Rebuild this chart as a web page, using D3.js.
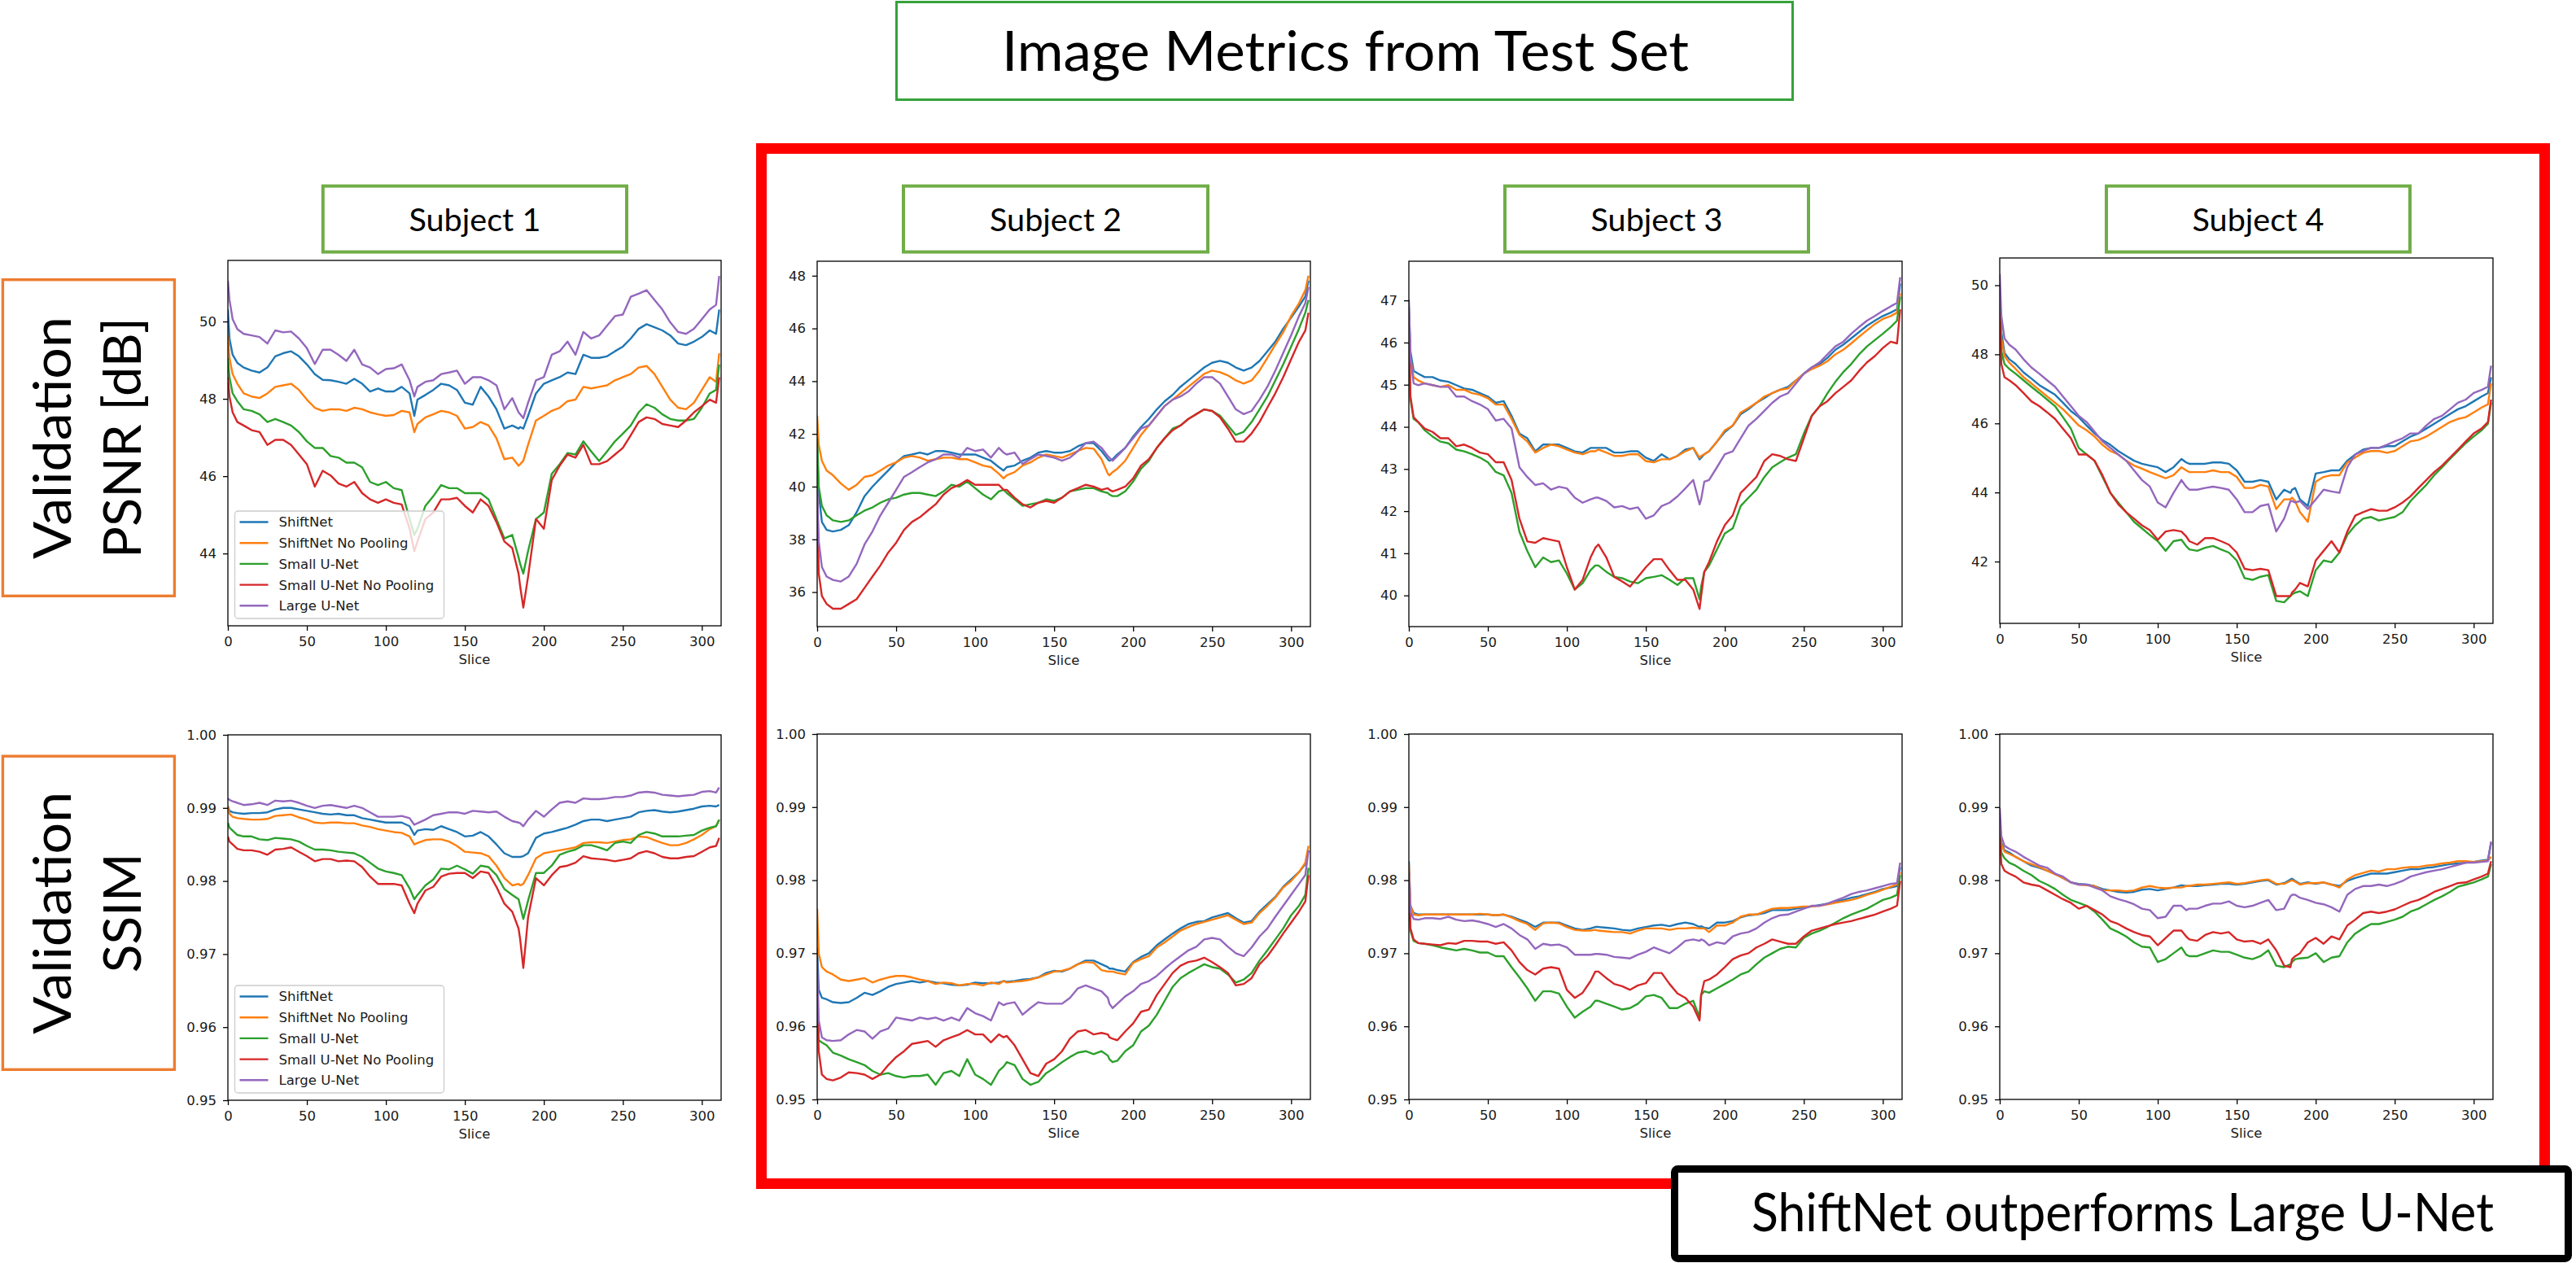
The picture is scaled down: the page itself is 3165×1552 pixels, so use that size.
<!DOCTYPE html>
<html><head><meta charset="utf-8">
<script src="https://cdn.jsdelivr.net/npm/d3@7"></script>
<style>body{margin:0;background:#fff}svg{display:block}</style>
</head><body>
<svg id="c" width="3165" height="1552"></svg>
<script>
// ---------------- DATA ----------------
const SLICES=[0,1,3,6,10,15,20,25,30,35,40,45,50,55,60,65,70,75,80,85,90,95,100,105,110,115,118,120,125,130,135,140,145,150,155,160,165,170,175,180,184,185,187,190,195,200,205,210,215,220,225,230,235,240,245,250,255,260,265,270,275,280,285,290,295,300,305,309,311];
const SERIES_NAMES=["ShiftNet","ShiftNet No Pooling","Small U-Net","Small U-Net No Pooling","Large U-Net"];
const SUBJECTS=["Subject 1","Subject 2","Subject 3","Subject 4"];
const X_TICKS=[0,50,100,150,200,250,300];
const PSNR_TICKS_S1=[44,46,48,50];
const PSNR_TICKS_S2=[36,38,40,42,44,46,48];
const PSNR_TICKS_S3=[40,41,42,43,44,45,46,47];
const PSNR_TICKS_S4=[42,44,46,48,50];
const SSIM_TICKS=[0.95,0.96,0.97,0.98,0.99,1.00];
const TITLE="Image Metrics from Test Set";
const ROW_LABELS=[["Validation","PSNR [dB]"],["Validation","SSIM"]];
const CONCLUSION="ShiftNet outperforms Large U-Net";

// PSNR, Subject 1
const P1_SHIFT=[50.31,49.56,49.14,48.93,48.81,48.73,48.68,48.81,49.10,49.18,49.23,49.10,48.89,48.64,48.49,48.48,48.44,48.39,48.52,48.39,48.19,48.27,48.19,48.19,48.31,48.14,47.56,47.98,48.10,48.23,48.39,48.35,48.23,47.90,47.85,48.31,48.06,47.73,47.23,47.31,47.23,47.27,47.23,47.56,48.14,48.39,48.48,48.56,48.68,48.64,49.14,49.06,49.06,49.10,49.23,49.35,49.56,49.81,49.93,49.85,49.77,49.64,49.43,49.39,49.48,49.60,49.77,49.68,50.31];
const P1_SHIFTNP=[49.64,49.06,48.64,48.39,48.14,48.06,48.02,48.14,48.31,48.35,48.39,48.23,47.98,47.77,47.69,47.73,47.73,47.69,47.77,47.73,47.65,47.60,47.56,47.58,47.69,47.65,47.14,47.35,47.52,47.60,47.69,47.65,47.56,47.23,47.27,47.40,47.31,46.98,46.44,46.48,46.27,46.31,46.40,46.81,47.44,47.56,47.69,47.77,47.94,47.98,48.31,48.27,48.31,48.35,48.48,48.56,48.64,48.81,48.85,48.64,48.31,47.98,47.77,47.73,47.90,48.23,48.56,48.44,49.18];
const P1_SMALL=[49.06,48.56,48.14,47.94,47.73,47.69,47.60,47.40,47.48,47.40,47.31,47.14,46.90,46.73,46.73,46.52,46.48,46.35,46.35,46.23,45.85,45.77,45.85,45.69,45.64,44.89,44.48,44.64,45.23,45.48,45.77,45.69,45.69,45.56,45.56,45.56,45.40,44.89,44.39,44.48,43.90,43.73,43.48,44.06,44.89,45.06,46.06,46.31,46.60,46.56,46.90,46.64,46.39,46.64,46.90,47.10,47.31,47.65,47.86,47.77,47.60,47.48,47.44,47.44,47.48,47.77,48.14,48.23,48.89];
const P1_SMALLNP=[48.56,48.06,47.65,47.40,47.31,47.19,47.14,46.81,46.94,46.94,46.81,46.56,46.31,45.73,46.14,46.02,45.81,45.73,45.85,45.56,45.40,45.31,45.40,45.31,45.27,44.64,44.06,44.31,44.89,45.06,45.40,45.40,45.44,45.23,45.06,45.40,45.23,44.81,44.31,44.14,43.48,43.15,42.60,43.40,44.89,44.64,45.90,46.27,46.56,46.48,46.81,46.31,46.31,46.39,46.56,46.73,47.06,47.40,47.52,47.48,47.35,47.31,47.27,47.44,47.65,47.81,47.98,47.90,48.56];
const P1_LARGE=[51.05,50.56,50.06,49.80,49.68,49.64,49.60,49.43,49.77,49.72,49.74,49.56,49.31,48.90,49.27,49.27,49.14,48.98,49.27,48.89,48.81,48.64,48.77,48.79,48.89,48.48,48.06,48.31,48.44,48.48,48.64,48.68,48.73,48.39,48.56,48.56,48.48,48.35,47.73,48.02,47.65,47.60,47.50,47.90,48.48,48.56,49.14,49.23,49.48,49.14,49.73,49.56,49.64,49.89,50.14,50.18,50.64,50.72,50.81,50.56,50.31,49.98,49.73,49.68,49.81,50.06,50.31,50.43,51.18];
// PSNR, Subject 2
const P2_SHIFT=[41.59,39.76,38.66,38.36,38.30,38.36,38.54,39.03,39.64,40.00,40.31,40.61,40.92,41.16,41.22,41.29,41.22,41.35,41.35,41.29,41.22,41.22,41.22,41.10,40.98,40.74,40.61,40.74,40.80,40.98,41.10,41.29,41.35,41.29,41.29,41.35,41.53,41.65,41.65,41.35,41.04,40.98,41.04,41.22,41.47,41.90,42.26,42.57,42.93,43.24,43.48,43.79,44.03,44.28,44.52,44.70,44.77,44.70,44.52,44.40,44.52,44.77,45.13,45.50,45.99,46.41,46.84,47.21,47.82];
const P2_SHIFTNP=[42.69,41.59,40.98,40.61,40.43,40.12,39.88,40.07,40.37,40.43,40.61,40.80,40.92,41.10,41.16,41.10,40.98,41.04,41.10,41.10,41.04,41.04,40.92,40.80,40.74,40.49,40.31,40.43,40.55,40.80,40.92,41.10,41.22,41.16,41.10,41.22,41.35,41.47,41.44,41.04,40.49,40.43,40.55,40.68,40.98,41.47,41.96,42.32,42.69,43.06,43.30,43.54,43.79,44.03,44.28,44.40,44.34,44.22,44.03,43.91,44.03,44.40,44.89,45.38,45.86,46.47,46.96,47.45,48.00];
const P2_SMALL=[41.84,40.00,39.27,38.91,38.72,38.66,38.72,38.91,39.09,39.21,39.39,39.52,39.58,39.70,39.76,39.76,39.70,39.64,39.82,40.07,40.00,40.19,39.94,39.70,39.52,39.82,39.88,39.76,39.52,39.27,39.33,39.39,39.52,39.46,39.58,39.82,39.88,39.94,39.94,39.82,39.76,39.70,39.64,39.64,39.82,40.19,40.68,40.98,41.47,41.84,42.20,42.32,42.57,42.75,42.93,42.87,42.69,42.32,41.96,42.08,42.45,42.93,43.42,44.03,44.64,45.31,45.99,46.60,47.08];
const P2_SMALLNP=[39.76,36.71,35.85,35.55,35.37,35.37,35.55,35.73,36.16,36.59,37.01,37.50,37.87,38.36,38.66,38.84,39.09,39.33,39.70,39.94,40.07,40.25,40.07,40.07,40.07,40.07,39.88,39.88,39.58,39.33,39.21,39.39,39.46,39.39,39.58,39.82,39.94,40.07,40.00,39.88,39.94,39.88,39.82,39.88,40.00,40.31,40.80,41.04,41.47,41.84,42.14,42.32,42.57,42.75,42.93,42.87,42.63,42.20,41.71,41.71,42.02,42.45,43.00,43.54,44.15,44.83,45.50,45.92,46.60];
const P2_LARGE=[40.00,37.93,36.95,36.59,36.46,36.40,36.59,37.07,37.81,38.30,38.91,39.39,39.88,40.37,40.55,40.74,40.92,41.04,41.22,41.22,41.10,41.47,41.35,41.41,41.10,41.47,41.29,41.22,41.29,40.86,41.04,41.22,41.16,41.10,40.98,41.10,41.35,41.65,41.71,41.47,41.16,41.10,40.98,41.16,41.47,41.84,42.20,42.32,42.69,43.06,43.30,43.42,43.61,43.91,44.15,44.15,43.91,43.42,42.93,42.75,42.87,43.30,43.79,44.40,45.07,45.74,46.47,46.96,47.57];
// PSNR, Subject 3
const P3_SHIFT=[46.86,45.79,45.33,45.26,45.18,45.18,45.10,45.07,44.99,44.91,44.88,44.80,44.72,44.57,44.61,44.26,43.84,43.73,43.42,43.58,43.58,43.58,43.50,43.42,43.39,43.50,43.50,43.50,43.50,43.39,43.39,43.42,43.42,43.27,43.19,43.35,43.23,43.31,43.46,43.50,43.23,43.27,43.35,43.42,43.65,43.88,44.03,44.30,44.42,44.57,44.68,44.80,44.88,44.95,45.10,45.26,45.41,45.49,45.64,45.83,45.95,46.10,46.25,46.40,46.52,46.63,46.71,46.79,47.40];
const P3_SHIFTNP=[46.71,45.64,45.18,45.10,45.03,44.99,44.95,44.99,44.88,44.88,44.80,44.76,44.68,44.53,44.53,44.19,43.81,43.65,43.39,43.50,43.58,43.54,43.46,43.39,43.35,43.42,43.42,43.46,43.39,43.31,43.31,43.35,43.35,43.19,43.16,43.23,43.23,43.31,43.42,43.50,43.27,43.31,43.35,43.42,43.65,43.92,44.03,44.34,44.45,44.57,44.72,44.80,44.88,44.91,45.10,45.26,45.37,45.45,45.56,45.72,45.83,45.98,46.14,46.29,46.44,46.56,46.63,46.71,47.17];
const P3_SMALL=[46.25,44.65,44.19,44.11,43.92,43.77,43.65,43.61,43.46,43.42,43.35,43.27,43.16,42.93,42.85,42.43,41.51,41.05,40.67,40.90,40.79,40.83,40.52,40.14,40.29,40.60,40.71,40.71,40.56,40.44,40.41,40.33,40.29,40.41,40.44,40.48,40.37,40.25,40.41,40.41,39.91,40.21,40.56,40.71,41.09,41.47,41.59,42.12,42.32,42.51,42.81,43.04,43.16,43.27,43.35,43.84,44.26,44.49,44.80,45.07,45.30,45.49,45.72,45.91,46.06,46.21,46.37,46.52,47.09];
const P3_SMALLNP=[46.25,44.72,44.23,44.11,43.96,43.88,43.73,43.73,43.54,43.58,43.50,43.39,43.35,43.16,43.16,42.74,41.82,41.28,41.25,41.36,41.32,41.28,40.67,40.14,40.37,40.90,41.13,41.21,40.90,40.44,40.33,40.21,40.44,40.67,40.86,40.86,40.60,40.37,40.37,40.14,39.68,39.98,40.56,40.79,41.28,41.67,41.90,42.43,42.62,42.81,43.19,43.35,43.31,43.23,43.19,43.73,44.26,44.49,44.61,44.80,44.95,45.10,45.33,45.53,45.68,45.87,46.02,45.98,46.79];
const P3_LARGE=[47.02,45.64,45.03,44.99,45.03,44.99,44.95,44.95,44.72,44.72,44.61,44.53,44.42,44.15,44.19,43.96,43.04,42.81,42.62,42.66,42.51,42.58,42.54,42.32,42.20,42.28,42.32,42.32,42.24,42.09,42.12,42.05,42.09,41.82,41.90,42.12,42.20,42.35,42.54,42.74,42.16,42.28,42.70,42.74,43.04,43.35,43.42,43.73,44.03,44.19,44.38,44.57,44.72,44.80,45.03,45.26,45.41,45.53,45.72,45.91,46.02,46.21,46.37,46.52,46.63,46.75,46.86,46.94,47.55];
// PSNR, Subject 4
const P4_SHIFT=[49.77,48.65,48.04,47.86,47.72,47.48,47.30,47.11,46.97,46.83,46.60,46.36,46.18,45.94,45.71,45.52,45.38,45.20,45.06,44.92,44.83,44.78,44.73,44.59,44.73,44.97,44.87,44.83,44.83,44.83,44.87,44.87,44.83,44.64,44.31,44.31,44.36,44.31,43.80,44.08,43.99,44.08,44.13,43.80,43.61,44.55,44.59,44.64,44.64,44.92,45.10,45.24,45.29,45.29,45.34,45.34,45.48,45.62,45.71,45.85,45.99,46.13,46.27,46.41,46.50,46.64,46.78,46.88,47.34];
const P4_SHIFTNP=[49.58,48.46,47.95,47.76,47.58,47.34,47.16,46.97,46.78,46.60,46.41,46.18,45.94,45.80,45.62,45.38,45.20,45.10,44.92,44.78,44.69,44.59,44.50,44.41,44.50,44.73,44.64,44.59,44.59,44.59,44.64,44.59,44.59,44.45,44.13,44.13,44.22,44.17,43.52,43.80,43.80,43.85,43.75,43.43,43.15,44.31,44.45,44.50,44.50,44.87,45.01,45.15,45.20,45.20,45.15,45.20,45.34,45.48,45.52,45.62,45.76,45.90,46.04,46.13,46.18,46.32,46.46,46.55,47.16];
const P4_SMALL=[49.39,48.09,47.72,47.58,47.44,47.25,47.06,46.88,46.69,46.50,46.18,45.85,45.29,45.10,44.92,44.45,43.99,43.71,43.43,43.15,42.96,42.77,42.59,42.31,42.59,42.63,42.45,42.35,42.31,42.40,42.45,42.35,42.26,42.03,41.52,41.47,41.56,41.61,40.86,40.82,41.00,41.05,41.10,41.14,41.00,41.75,42.03,41.98,42.26,42.77,43.05,43.24,43.29,43.19,43.24,43.29,43.43,43.75,43.99,44.22,44.50,44.73,44.97,45.20,45.43,45.62,45.80,45.99,46.60];
const P4_SMALLNP=[49.21,47.72,47.34,47.25,47.11,46.88,46.64,46.50,46.32,46.13,45.85,45.57,45.10,45.10,44.92,44.50,43.99,43.66,43.43,43.24,43.05,42.91,42.63,42.87,42.91,42.87,42.73,42.59,42.49,42.68,42.68,42.59,42.49,42.26,41.79,41.75,41.79,41.75,41.00,41.00,41.00,41.10,41.19,41.38,41.28,42.03,42.31,42.59,42.26,42.87,43.33,43.43,43.52,43.47,43.47,43.57,43.71,43.89,44.13,44.36,44.59,44.78,45.01,45.24,45.48,45.71,45.85,46.04,46.69];
const P4_LARGE=[50.33,49.11,48.46,48.28,48.14,47.86,47.62,47.44,47.25,47.06,46.78,46.50,46.22,46.04,45.76,45.48,45.29,45.10,44.92,44.64,44.36,44.17,43.71,43.57,43.99,44.36,44.17,44.08,44.08,44.13,44.17,44.13,44.08,43.80,43.43,43.43,43.61,43.66,42.87,43.24,43.75,43.75,43.71,43.75,43.52,43.80,44.08,44.03,43.99,44.73,45.10,45.20,45.29,45.29,45.38,45.48,45.57,45.71,45.71,45.94,46.13,46.22,46.41,46.60,46.69,46.88,46.97,47.06,47.67];
// SSIM, Subject 1
const Q1_SHIFT=[.9902,.9896,.9894,.9893,.9892,.9893,.9893,.9894,.9898,.9900,.9900,.9898,.9896,.9894,.9892,.9891,.9892,.9890,.9890,.9886,.9884,.9882,.9880,.9880,.9880,.9875,.9863,.9869,.9871,.9870,.9875,.9871,.9867,.9861,.9862,.9867,.9861,.9850,.9838,.9833,.9833,.9833,.9834,.9838,.9859,.9865,.9867,.9870,.9873,.9877,.9882,.9884,.9884,.9882,.9884,.9886,.9888,.9894,.9896,.9897,.9895,.9894,.9895,.9897,.9899,.9902,.9903,.9902,.9904];
const Q1_SHIFTNP=[.9902,.9892,.9888,.9886,.9885,.9884,.9884,.9885,.9889,.9890,.9891,.9887,.9884,.9880,.9879,.9880,.9880,.9879,.9879,.9876,.9874,.9871,.9869,.9867,.9866,.9861,.9850,.9852,.9856,.9857,.9857,.9854,.9848,.9840,.9839,.9838,.9834,.9821,.9804,.9794,.9796,.9794,.9796,.9808,.9831,.9838,.9840,.9842,.9844,.9846,.9852,.9853,.9853,.9852,.9854,.9856,.9857,.9861,.9860,.9856,.9852,.9849,.9849,.9852,.9857,.9863,.9871,.9875,.9884];
const Q1_SMALL=[.9880,.9873,.9869,.9863,.9861,.9861,.9857,.9856,.9859,.9858,.9857,.9854,.9848,.9843,.9843,.9842,.9840,.9839,.9838,.9833,.9825,.9817,.9813,.9811,.9808,.9790,.9775,.9781,.9794,.9802,.9817,.9816,.9821,.9816,.9810,.9821,.9819,.9808,.9789,.9781,.9775,.9766,.9748,.9773,.9811,.9811,.9821,.9836,.9840,.9843,.9849,.9849,.9846,.9842,.9852,.9854,.9852,.9863,.9867,.9865,.9861,.9861,.9861,.9862,.9863,.9869,.9873,.9875,.9884];
const Q1_SMALLNP=[.9861,.9854,.9850,.9844,.9842,.9842,.9840,.9836,.9843,.9844,.9846,.9840,.9834,.9827,.9830,.9830,.9827,.9828,.9827,.9819,.9806,.9796,.9796,.9796,.9794,.9769,.9756,.9769,.9787,.9792,.9806,.9810,.9811,.9811,.9804,.9813,.9811,.9792,.9769,.9758,.9735,.9720,.9681,.9750,.9804,.9794,.9808,.9819,.9821,.9825,.9834,.9831,.9830,.9829,.9827,.9829,.9831,.9838,.9841,.9838,.9833,.9831,.9831,.9833,.9834,.9840,.9846,.9848,.9859];
const Q1_LARGE=[.9913,.9911,.9909,.9907,.9904,.9905,.9907,.9904,.9910,.9909,.9910,.9907,.9903,.9900,.9903,.9904,.9902,.9900,.9903,.9900,.9894,.9888,.9888,.9888,.9889,.9886,.9877,.9879,.9884,.9890,.9892,.9894,.9894,.9892,.9896,.9895,.9894,.9895,.9888,.9882,.9880,.9879,.9875,.9884,.9896,.9888,.9898,.9907,.9909,.9907,.9913,.9912,.9912,.9913,.9915,.9915,.9917,.9921,.9922,.9921,.9918,.9917,.9916,.9917,.9918,.9922,.9923,.9921,.9928];
// SSIM, Subject 2
const Q2_SHIFT=[.9708,.9650,.9639,.9637,.9633,.9632,.9633,.9639,.9646,.9643,.9648,.9654,.9658,.9660,.9662,.9660,.9662,.9660,.9659,.9657,.9656,.9657,.9660,.9659,.9659,.9660,.9662,.9661,.9662,.9664,.9665,.9667,.9673,.9676,.9675,.9679,.9685,.9690,.9690,.9685,.9681,.9679,.9679,.9677,.9675,.9688,.9695,.9700,.9711,.9719,.9727,.9734,.9740,.9743,.9744,.9749,.9752,.9755,.9748,.9742,.9744,.9757,.9767,.9777,.9791,.9801,.9811,.9822,.9841];
const Q2_SHIFTNP=[.9761,.9700,.9681,.9675,.9671,.9664,.9662,.9664,.9666,.9660,.9664,.9667,.9669,.9669,.9667,.9664,.9662,.9658,.9660,.9659,.9656,.9658,.9658,.9656,.9660,.9658,.9662,.9660,.9661,.9662,.9664,.9667,.9671,.9675,.9676,.9679,.9685,.9688,.9687,.9677,.9675,.9675,.9675,.9673,.9671,.9687,.9692,.9696,.9708,.9715,.9723,.9731,.9736,.9740,.9743,.9746,.9749,.9752,.9746,.9740,.9742,.9755,.9765,.9776,.9790,.9799,.9811,.9824,.9847];
const Q2_SMALL=[.9658,.9581,.9578,.9574,.9564,.9560,.9555,.9551,.9547,.9539,.9534,.9536,.9532,.9530,.9532,.9532,.9534,.9520,.9536,.9539,.9532,.9555,.9534,.9528,.9520,.9539,.9545,.9551,.9547,.9528,.9520,.9524,.9536,.9543,.9551,.9558,.9564,.9566,.9562,.9566,.9560,.9555,.9551,.9553,.9566,.9574,.9593,.9601,.9616,.9635,.9654,.9666,.9673,.9679,.9685,.9681,.9679,.9671,.9660,.9664,.9673,.9690,.9704,.9719,.9734,.9752,.9765,.9780,.9817];
const Q2_SMALLNP=[.9643,.9566,.9534,.9528,.9526,.9530,.9537,.9536,.9534,.9528,.9534,.9547,.9558,.9566,.9576,.9578,.9580,.9572,.9581,.9585,.9589,.9595,.9589,.9589,.9578,.9589,.9585,.9587,.9574,.9555,.9536,.9532,.9549,.9555,.9566,.9583,.9593,.9595,.9589,.9591,.9589,.9585,.9583,.9581,.9593,.9604,.9620,.9623,.9643,.9658,.9673,.9683,.9688,.9690,.9694,.9688,.9681,.9673,.9656,.9658,.9666,.9685,.9696,.9711,.9727,.9742,.9757,.9771,.9807];
const Q2_LARGE=[.9688,.9608,.9585,.9581,.9580,.9581,.9589,.9595,.9593,.9583,.9593,.9597,.9612,.9610,.9608,.9612,.9610,.9612,.9608,.9612,.9608,.9625,.9618,.9614,.9608,.9633,.9629,.9631,.9633,.9616,.9625,.9633,.9631,.9631,.9631,.9639,.9652,.9656,.9652,.9648,.9639,.9631,.9625,.9631,.9641,.9648,.9658,.9662,.9669,.9679,.9688,.9696,.9704,.9709,.9719,.9721,.9719,.9709,.9700,.9696,.9708,.9723,.9734,.9750,.9765,.9780,.9795,.9807,.9841];
// SSIM, Subject 3
const Q3_SHIFT=[.9826,.9765,.9755,.9753,.9753,.9753,.9753,.9753,.9753,.9753,.9753,.9753,.9753,.9752,.9753,.9750,.9746,.9742,.9736,.9742,.9742,.9742,.9738,.9734,.9732,.9734,.9736,.9736,.9735,.9734,.9732,.9731,.9734,.9736,.9738,.9739,.9737,.9740,.9742,.9740,.9736,.9737,.9735,.9734,.9742,.9742,.9744,.9749,.9752,.9753,.9755,.9759,.9759,.9759,.9761,.9763,.9764,.9766,.9768,.9771,.9773,.9776,.9778,.9781,.9784,.9788,.9790,.9792,.9818];
const Q3_SHIFTNP=[.9822,.9765,.9753,.9752,.9753,.9753,.9753,.9753,.9753,.9753,.9753,.9754,.9753,.9752,.9753,.9749,.9744,.9740,.9732,.9741,.9742,.9741,.9736,.9732,.9731,.9731,.9732,.9731,.9730,.9729,.9729,.9727,.9731,.9734,.9734,.9734,.9732,.9734,.9734,.9735,.9734,.9734,.9734,.9729,.9738,.9738,.9742,.9750,.9753,.9753,.9757,.9761,.9762,.9762,.9763,.9764,.9764,.9765,.9767,.9769,.9771,.9773,.9776,.9780,.9783,.9787,.9791,.9794,.9811];
const Q3_SMALL=[.9795,.9731,.9717,.9714,.9713,.9711,.9708,.9706,.9704,.9706,.9704,.9701,.9701,.9696,.9696,.9681,.9667,.9652,.9635,.9648,.9648,.9645,.9627,.9612,.9620,.9627,.9635,.9635,.9631,.9627,.9623,.9625,.9631,.9641,.9643,.9639,.9625,.9625,.9631,.9635,.9612,.9643,.9648,.9646,.9652,.9658,.9664,.9671,.9675,.9685,.9694,.9700,.9706,.9709,.9708,.9721,.9727,.9731,.9736,.9742,.9748,.9753,.9757,.9761,.9767,.9773,.9776,.9780,.9807];
const Q3_SMALLNP=[.9799,.9734,.9719,.9714,.9713,.9712,.9711,.9714,.9713,.9717,.9717,.9716,.9716,.9713,.9715,.9704,.9688,.9677,.9671,.9679,.9681,.9679,.9650,.9639,.9646,.9662,.9675,.9675,.9666,.9658,.9655,.9650,.9656,.9659,.9673,.9673,.9658,.9645,.9639,.9627,.9608,.9643,.9662,.9664,.9671,.9681,.9692,.9697,.9700,.9708,.9713,.9719,.9716,.9713,.9713,.9723,.9731,.9734,.9737,.9740,.9742,.9744,.9747,.9750,.9753,.9757,.9761,.9765,.9799];
const Q3_LARGE=[.9811,.9757,.9747,.9746,.9748,.9748,.9747,.9750,.9746,.9744,.9745,.9743,.9740,.9736,.9740,.9734,.9725,.9719,.9706,.9713,.9711,.9712,.9708,.9698,.9698,.9698,.9699,.9699,.9698,.9695,.9694,.9693,.9698,.9702,.9708,.9704,.9700,.9708,.9717,.9719,.9717,.9719,.9717,.9711,.9715,.9713,.9723,.9727,.9729,.9734,.9742,.9748,.9752,.9753,.9757,.9761,.9765,.9765,.9768,.9772,.9776,.9781,.9784,.9786,.9789,.9792,.9795,.9796,.9824];
// SSIM, Subject 4
const Q4_SHIFT=[.9880,.9851,.9841,.9838,.9832,.9826,.9820,.9817,.9813,.9809,.9803,.9797,.9795,.9794,.9792,.9788,.9786,.9784,.9783,.9784,.9787,.9788,.9786,.9788,.9790,.9793,.9792,.9792,.9792,.9793,.9794,.9795,.9795,.9794,.9795,.9797,.9799,.9800,.9794,.9796,.9801,.9802,.9799,.9795,.9797,.9795,.9797,.9794,.9792,.9799,.9803,.9806,.9809,.9809,.9809,.9811,.9813,.9815,.9815,.9817,.9818,.9820,.9822,.9823,.9824,.9825,.9827,.9828,.9851];
const Q4_SHIFTNP=[.9876,.9849,.9839,.9836,.9832,.9826,.9822,.9818,.9813,.9808,.9803,.9797,.9794,.9793,.9792,.9786,.9786,.9786,.9785,.9786,.9790,.9792,.9790,.9789,.9790,.9790,.9792,.9792,.9794,.9794,.9795,.9796,.9797,.9795,.9796,.9798,.9800,.9801,.9795,.9795,.9799,.9800,.9798,.9794,.9796,.9796,.9797,.9794,.9790,.9801,.9807,.9810,.9813,.9812,.9815,.9815,.9817,.9818,.9818,.9820,.9821,.9823,.9824,.9826,.9826,.9825,.9826,.9827,.9832];
const Q4_SMALL=[.9864,.9838,.9830,.9824,.9820,.9813,.9807,.9799,.9794,.9788,.9780,.9773,.9769,.9765,.9757,.9746,.9734,.9729,.9723,.9715,.9709,.9708,.9688,.9692,.9700,.9708,.9698,.9696,.9696,.9700,.9704,.9702,.9702,.9698,.9694,.9692,.9696,.9704,.9683,.9681,.9685,.9688,.9692,.9693,.9694,.9700,.9688,.9694,.9696,.9715,.9727,.9734,.9740,.9740,.9743,.9746,.9750,.9757,.9761,.9767,.9773,.9778,.9784,.9791,.9794,.9797,.9801,.9805,.9822];
const Q4_SMALLNP=[.9860,.9822,.9813,.9809,.9805,.9797,.9794,.9792,.9786,.9780,.9774,.9769,.9761,.9765,.9759,.9753,.9744,.9740,.9734,.9729,.9725,.9723,.9711,.9721,.9731,.9731,.9723,.9719,.9717,.9725,.9729,.9727,.9729,.9719,.9716,.9717,.9713,.9719,.9704,.9683,.9681,.9692,.9696,.9700,.9715,.9721,.9713,.9723,.9719,.9738,.9746,.9755,.9757,.9755,.9757,.9760,.9765,.9770,.9773,.9778,.9784,.9788,.9792,.9796,.9797,.9801,.9805,.9809,.9826];
const Q4_LARGE=[.9899,.9860,.9847,.9843,.9839,.9832,.9826,.9820,.9817,.9809,.9805,.9797,.9794,.9794,.9790,.9786,.9778,.9774,.9771,.9767,.9761,.9759,.9748,.9750,.9765,.9765,.9759,.9761,.9761,.9765,.9768,.9768,.9771,.9765,.9763,.9765,.9769,.9773,.9759,.9761,.9778,.9780,.9780,.9776,.9773,.9769,.9767,.9763,.9757,.9780,.9788,.9792,.9792,.9794,.9792,.9795,.9799,.9805,.9808,.9811,.9813,.9815,.9818,.9821,.9824,.9824,.9825,.9826,.9853];

// ---------------- STYLE / LAYOUT ----------------
const COLORS=["#1f77b4","#ff7f0e","#2ca02c","#d62728","#9467bd"];
const TICK_FONT="'DejaVu Sans', sans-serif";
const BIG_FONT="Lato, 'Open Sans', sans-serif";
const PW=606, PH=449;
const X_DOMAIN=[0,312.2];

const panels=[
  {left:280, top:320, series:[P1_SHIFT,P1_SHIFTNP,P1_SMALL,P1_SMALLNP,P1_LARGE], domain:[42.13,51.58], ticks:PSNR_TICKS_S1, fmt:d3.format("d"), legend:true},
  {left:1004,top:321, series:[P2_SHIFT,P2_SHIFTNP,P2_SMALL,P2_SMALLNP,P2_LARGE], domain:[34.69,48.55], ticks:PSNR_TICKS_S2, fmt:d3.format("d")},
  {left:1731,top:321, series:[P3_SHIFT,P3_SHIFTNP,P3_SMALL,P3_SMALLNP,P3_LARGE], domain:[39.26,47.93], ticks:PSNR_TICKS_S3, fmt:d3.format("d")},
  {left:2457,top:317, series:[P4_SHIFT,P4_SHIFTNP,P4_SMALL,P4_SMALLNP,P4_LARGE], domain:[40.21,50.79], ticks:PSNR_TICKS_S4, fmt:d3.format("d")},
  {left:280, top:903, series:[Q1_SHIFT,Q1_SHIFTNP,Q1_SMALL,Q1_SMALLNP,Q1_LARGE], domain:[0.95,1.0], ticks:SSIM_TICKS, fmt:d3.format(".2f"), legend:true},
  {left:1004,top:902, series:[Q2_SHIFT,Q2_SHIFTNP,Q2_SMALL,Q2_SMALLNP,Q2_LARGE], domain:[0.95,1.0], ticks:SSIM_TICKS, fmt:d3.format(".2f")},
  {left:1731,top:902, series:[Q3_SHIFT,Q3_SHIFTNP,Q3_SMALL,Q3_SMALLNP,Q3_LARGE], domain:[0.95,1.0], ticks:SSIM_TICKS, fmt:d3.format(".2f")},
  {left:2457,top:902, series:[Q4_SHIFT,Q4_SHIFTNP,Q4_SMALL,Q4_SMALLNP,Q4_LARGE], domain:[0.95,1.0], ticks:SSIM_TICKS, fmt:d3.format(".2f")}
];

const svg=d3.select("#c");
svg.append("rect").attr("width",3165).attr("height",1552).attr("fill","#fff");
const defs=svg.append("defs");

panels.forEach((p,pi)=>{
  const g=svg.append("g").attr("transform",`translate(${p.left},${p.top})`);
  const x=d3.scaleLinear().domain(X_DOMAIN).range([0,PW]);
  const y=d3.scaleLinear().domain(p.domain).range([PH,0]);
  defs.append("clipPath").attr("id","clip"+pi).append("rect").attr("width",PW).attr("height",PH);

  const line=d3.line().x((d,i)=>x(SLICES[i])).y(d=>y(d));
  const lg=g.append("g").attr("clip-path",`url(#clip${pi})`);
  p.series.forEach((s,si)=>{
    lg.append("path").datum(s).attr("d",line).attr("fill","none")
      .attr("stroke",COLORS[si]).attr("stroke-width",2.4)
      .attr("stroke-linejoin","round").attr("stroke-linecap","butt");
  });

  // axes
  const xa=g.append("g").attr("transform",`translate(0,${PH})`)
    .call(d3.axisBottom(x).tickValues(X_TICKS).tickSize(6).tickSizeOuter(0).tickPadding(7).tickFormat(d3.format("d")));
  const ya=g.append("g")
    .call(d3.axisLeft(y).tickValues(p.ticks).tickSize(6).tickSizeOuter(0).tickPadding(8).tickFormat(p.fmt));
  [xa,ya].forEach(a=>{
    a.select(".domain").remove();
    a.attr("font-family",TICK_FONT).attr("font-size",16.5);
    a.selectAll("line").attr("stroke","#000").attr("stroke-width",1.3);
    a.selectAll("text").attr("fill","#1a1a1a");
  });
  g.append("rect").attr("width",PW).attr("height",PH).attr("fill","none")
    .attr("stroke","#000").attr("stroke-width",1.3);
  g.append("text").attr("x",PW/2).attr("y",PH+47).attr("text-anchor","middle")
    .attr("font-family",TICK_FONT).attr("font-size",16.5).attr("fill","#1a1a1a").text("Slice");

  if(p.legend){
    const lw=257, lh=132, lx=8.5, ly=PH-9-lh;
    const L=g.append("g").attr("transform",`translate(${lx},${ly})`);
    L.append("rect").attr("width",lw).attr("height",lh).attr("rx",4)
      .attr("fill","#fff").attr("fill-opacity",0.8).attr("stroke","#cccccc").attr("stroke-width",1.3);
    SERIES_NAMES.forEach((n,i)=>{
      const cy=13.5+i*25.7;
      L.append("line").attr("x1",6).attr("x2",41).attr("y1",cy).attr("y2",cy)
        .attr("stroke",COLORS[i]).attr("stroke-width",2.4);
      L.append("text").attr("x",54).attr("y",cy).attr("dy","0.36em")
        .attr("font-family",TICK_FONT).attr("font-size",16.5).attr("fill","#1a1a1a").text(n);
    });
  }
});

// Title box
svg.append("rect").attr("x",1101.5).attr("y",2.5).attr("width",1101).attr("height",120)
  .attr("fill","none").attr("stroke","#36a23c").attr("stroke-width",3);
svg.append("text").attr("x",1653).attr("y",87.3).attr("text-anchor","middle")
  .attr("font-family",BIG_FONT).attr("font-size",67).attr("fill","#000")
  .attr("textLength",844).attr("lengthAdjust","spacingAndGlyphs").text(TITLE);

// Subject boxes
const subjBoxes=[[394.8,772],[1108,1486],[1847,2224],[2586,2963]];
SUBJECTS.forEach((s,i)=>{
  const [a,b]=subjBoxes[i];
  svg.append("rect").attr("x",a+2).attr("y",228.6).attr("width",b-a-4).attr("height",81)
    .attr("fill","#fff").attr("stroke","#70ad47").attr("stroke-width",4);
  svg.append("text").attr("x",(a+b)/2).attr("y",284.3).attr("text-anchor","middle")
    .attr("font-family",BIG_FONT).attr("font-size",38.5).attr("fill","#000")
    .attr("textLength",162).attr("lengthAdjust","spacingAndGlyphs").text(s);
});

// Row label boxes (orange)
const rowBoxes=[[342,734,[298,296]],[927.5,1316,[298,147]]];
ROW_LABELS.forEach((lab,i)=>{
  const [t,b,lens]=rowBoxes[i];
  svg.append("rect").attr("x",3.4).attr("y",t+1.7).attr("width",211).attr("height",b-t-3.4)
    .attr("fill","#fff").attr("stroke","#ed7d31").attr("stroke-width",3.4);
  const cy=(t+b)/2;
  [[87,lab[0],lens[0]],[173,lab[1],lens[1]]].forEach(([bx,txt,len])=>{
    svg.append("text").attr("transform",`translate(${bx},${cy}) rotate(-90)`)
      .attr("text-anchor","middle").attr("font-family",BIG_FONT).attr("font-size",64).attr("fill","#000")
      .attr("textLength",len).attr("lengthAdjust","spacingAndGlyphs").text(txt);
  });
});

// Red highlight rectangle
svg.append("rect").attr("x",935.5).attr("y",182.5).attr("width",3126.5-935.5).attr("height",1454.5-182.5)
  .attr("fill","none").attr("stroke","#ff0000").attr("stroke-width",13);

// Conclusion box
svg.append("rect").attr("x",2057.5).attr("y",1436.5).attr("width",1098).attr("height",110).attr("rx",4)
  .attr("fill","#fff").attr("stroke","#000").attr("stroke-width",9);
svg.append("text").attr("x",2608).attr("y",1513).attr("text-anchor","middle")
  .attr("font-family",BIG_FONT).attr("font-size",65).attr("fill","#000")
  .attr("textLength",912).attr("lengthAdjust","spacingAndGlyphs").text(CONCLUSION);
</script>
</body></html>
